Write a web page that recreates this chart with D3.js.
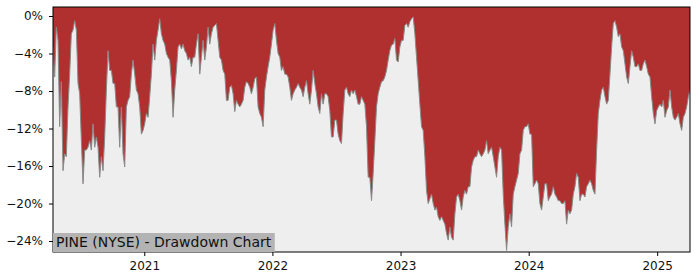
<!DOCTYPE html>
<html>
<head>
<meta charset="utf-8">
<script src="https://cdn.jsdelivr.net/npm/d3@7"></script>
<style>
  body { margin: 0; background: #fff; }
  text { font-family: "DejaVu Sans", sans-serif; }
</style>
</head>
<body>
<svg id="chart" width="700" height="280"></svg>
<script>
  const title = "PINE (NYSE) - Drawdown Chart";

  // regular series: first day, then one reading every 114 hours
  const firstDay = "2020-04-16";
  const stepHours = 114;

  // drawdown in percent
  const drawdown = [
    -3.3, -6.5, -1.2, -2.6, -11.8, -7.0, -16.5, -14.7, -15.0, -9.7, -6.2, -1.9, -1.5, -0.5, -1.5, -7.2,
    -8.3, -13.3, -17.9, -14.3, -14.3, -14.0, -13.3, -14.3, -11.5, -14.0, -12.9, -14.0, -17.2, -15.0, -16.5, -12.9,
    -7.9, -3.7, -5.8, -5.8, -7.2, -7.2, -9.7, -9.7, -14.0, -9.7, -14.7, -16.1, -9.7, -9.0, -8.6, -6.2,
    -4.7, -6.2, -7.9, -8.3, -9.7, -12.6, -12.2, -11.5, -10.4, -10.8, -8.6, -6.2, -3.0, -4.7, -2.6, -1.5,
    -0.3, -1.9, -2.6, -3.0, -4.0, -4.4, -4.7, -6.9, -10.8, -7.9, -5.8, -3.3, -3.0, -3.5, -3.0, -3.7,
    -4.0, -4.7, -4.4, -5.4, -4.4, -4.4, -3.0, -1.9, -6.2, -4.4, -2.6, -4.7, -3.3, -1.2, -3.0, -1.9,

    -1.2, -1.0, -0.8, -2.6, -4.4, -4.7, -5.8, -6.2, -9.0, -9.0, -7.6, -7.4, -8.3, -10.2, -9.0, -9.4,
    -9.7, -9.4, -9.0, -7.6, -7.0, -7.2, -7.6, -8.3, -7.6, -6.7, -6.5, -9.7, -10.4, -10.8, -11.8, -7.9,
    -6.5, -5.4, -4.4, -3.0, -1.5, -0.8, -2.6, -4.0, -4.4, -5.8, -5.4, -6.2, -6.2, -6.5, -7.6, -9.0,
    -8.3, -7.9, -7.6, -7.2, -7.6, -7.9, -8.6, -7.6, -6.9, -8.3, -9.4, -7.9, -5.8, -7.2, -8.3, -9.7,
    -10.4, -8.3, -9.4, -8.3, -8.3, -8.6, -10.1, -12.9, -12.9, -11.1, -11.1, -12.6, -13.3, -13.6, -10.4, -7.9,
    -7.6, -8.3, -8.6, -7.9, -8.3, -7.9, -8.6, -9.4, -9.4, -8.6, -9.0, -9.4, -11.8, -17.2, -17.2, -19.7,

    -16.8, -13.3, -9.7, -8.3, -7.6, -7.0, -6.9, -6.5, -5.8, -4.7, -3.7, -3.1, -3.0, -2.4, -4.7, -4.9,
    -3.3, -2.6, -2.6, -1.0, -0.8, -1.2, -0.6, -0.3, -0.1, -1.9, -4.4, -6.9, -9.4, -11.8, -12.2, -15.0,
    -18.6, -20.0, -19.5, -19.0, -20.0, -20.7, -20.4, -21.4, -21.8, -21.4, -21.8, -22.2, -23.2, -23.9, -22.5, -23.6,
    -23.9, -21.1, -19.3, -19.0, -19.7, -20.7, -19.3, -18.6, -19.0, -18.2, -18.2, -16.1, -15.4, -15.0, -15.0, -14.3,
    -14.7, -15.0, -14.7, -14.3, -13.3, -14.7, -14.3, -14.0, -15.0, -16.1, -17.2, -15.0, -14.0, -14.3, -19.0, -22.2,
    -25.0, -22.5, -21.1, -22.5, -19.0, -18.2, -17.5, -16.8, -14.7, -14.3, -12.2, -11.8, -11.8, -11.5, -12.6, -12.6,

    -18.2, -17.9, -17.5, -17.9, -20.0, -20.7, -19.3, -17.9, -17.9, -19.7, -19.3, -19.0, -18.2, -19.0, -19.3, -19.7,
    -19.7, -20.0, -20.0, -19.7, -22.2, -20.7, -21.1, -20.7, -19.0, -18.2, -16.8, -17.2, -19.7, -19.0, -19.0, -19.3,
    -18.2, -17.9, -17.5, -17.9, -18.6, -19.0, -14.3, -10.4, -9.0, -7.9, -7.6, -8.6, -9.4, -9.0, -6.2, -3.3,
    -0.8, -0.5, -1.2, -2.2, -1.9, -3.3, -3.7, -5.1, -6.5, -7.2, -5.4, -3.7, -4.4, -5.4, -5.4, -5.1,
    -5.8, -5.8, -5.1, -4.7, -5.4, -6.2, -6.5, -8.6, -10.4, -11.5, -10.1, -9.7, -9.4, -9.7, -9.0, -10.8,
    -10.1, -9.7, -7.9, -9.7, -10.8, -11.1, -10.8, -10.4, -11.5, -12.2, -10.8, -10.4, -9.7, -8.6, -7.9
  ];

  const yTicks = [0, -4, -8, -12, -16, -20, -24];
  const xTicks = ["2021-01-01", "2022-01-01", "2023-01-01", "2024-01-01", "2025-01-01"];
  const yLimits = [-25.17, 0.96];

  const parseDay = d3.timeParse("%Y-%m-%d");
  const start = parseDay(firstDay);
  const data = drawdown.map((v, i) => ({ date: d3.timeHour.offset(start, i * stepHours), value: v }));

  const svg = d3.select("#chart");
  const margin = { top: 7, right: 10, bottom: 28, left: 53 };
  const width = +svg.attr("width") - margin.left - margin.right;
  const height = +svg.attr("height") - margin.top - margin.bottom;

  const g = svg.append("g")
    .attr("transform", `translate(${margin.left},${margin.top})`);

  const x = d3.scaleTime()
    .domain(d3.extent(data, d => d.date))
    .range([0, width]);

  const y = d3.scaleLinear()
    .domain(yLimits)
    .range([height, 0]);

  svg.append("defs").append("clipPath")
    .attr("id", "plotClip")
    .append("rect")
    .attr("width", width)
    .attr("height", height);

  g.append("rect")
    .attr("width", width)
    .attr("height", height)
    .attr("fill", "#eeeeee");

  const plot = g.append("g").attr("clip-path", "url(#plotClip)");

  plot.append("path")
    .datum(data)
    .attr("fill", "#b03030")
    .attr("d", d3.area()
      .x(d => x(d.date))
      .y0(0)
      .y1(d => y(d.value)));

  plot.append("path")
    .datum(data)
    .attr("fill", "none")
    .attr("stroke", "#8a8a8a")
    .attr("stroke-width", 1)
    .attr("d", d3.line()
      .x(d => x(d.date))
      .y(d => y(d.value)));

  // axes
  const yAxis = g.append("g")
    .call(d3.axisLeft(y)
      .tickValues(yTicks)
      .tickSize(4)
      .tickPadding(6)
      .tickFormat(d => d3.format("d")(d) + "%"));

  const xAxis = g.append("g")
    .attr("transform", `translate(0,${height})`)
    .call(d3.axisBottom(x)
      .tickValues(xTicks.map(parseDay))
      .tickSize(4)
      .tickPadding(5)
      .tickFormat(d3.timeFormat("%Y")));

  [yAxis, xAxis].forEach(ax => {
    ax.select(".domain").remove();
    ax.selectAll("text").attr("font-size", 12).attr("fill", "#111");
    ax.selectAll("line").attr("stroke", "#000");
  });

  // frame
  g.append("rect")
    .attr("width", width)
    .attr("height", height)
    .attr("fill", "none")
    .attr("stroke", "#000")
    .attr("stroke-width", 1);

  // title box in the lower left corner
  const label = g.append("g");
  const labelText = label.append("text")
    .attr("x", 3)
    .attr("y", height - 5)
    .attr("font-size", 14)
    .attr("fill", "#111")
    .text(title);
  const bb = labelText.node().getBBox();
  label.insert("rect", "text")
    .attr("x", 0)
    .attr("y", height - 19)
    .attr("width", bb.width + 6)
    .attr("height", 19)
    .attr("fill", "#b3b3b3");
</script>
</body>
</html>
